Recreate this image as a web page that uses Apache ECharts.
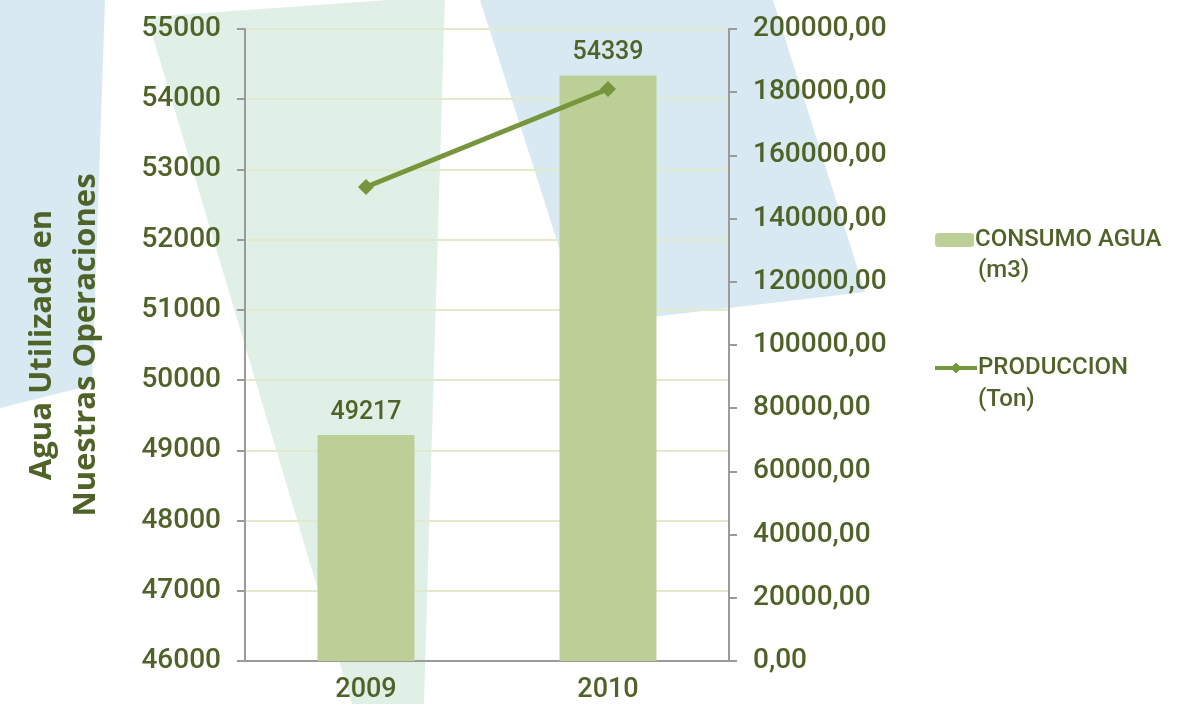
<!DOCTYPE html>
<html>
<head>
<meta charset="utf-8">
<script src="https://cdn.jsdelivr.net/npm/echarts@6/dist/echarts.min.js"></script>
<style>
  html, body { margin: 0; padding: 0; background: #ffffff; }
  #chart { width: 1179px; height: 704px; }
</style>
</head>
<body>
<div id="chart"></div>
<script>
// Water use vs. production, 2009–2010
const years = ['2009', '2010'];
const consumoAgua = [49217, 54339];        // m3
const produccion = [150000, 181000];       // Ton
const serieAgua = 'CONSUMO AGUA (m3)';
const serieProd = 'PRODUCCION (Ton)';

const textColor = '#4f6228';
const fontFam = 'Roboto, "Open Sans", sans-serif';
const titleFam = '"Open Sans", "Noto Sans", sans-serif';
const wt = 500;

const chart = echarts.init(document.getElementById('chart'), null, { renderer: 'canvas' });

// decorative background panels
const panels = [
  { points: [[0, 0], [105, 0], [92, 385], [0, 408]], fill: '#d8e9f1' },
  { points: [[147, 17], [445, -4], [424, 704], [352, 704]], fill: '#e1f0e6' },
  { points: [[480, 0], [773, 0], [865, 292], [584, 325]], fill: '#d8e9f1' }
];

chart.setOption({
  backgroundColor: '#ffffff',
  animation: false,
  graphic: [
    ...panels.map(p => ({
      type: 'polygon', silent: true, z: -10,
      shape: { points: p.points },
      style: { fill: p.fill }
    })),
    { type: 'text', left: 978, top: 259, z: 10,
      style: { text: '(m3)', fill: textColor, font: wt + ' 24px ' + fontFam } },
    { type: 'text', left: 978, top: 388, z: 10,
      style: { text: '(Ton)', fill: textColor, font: wt + ' 24px ' + fontFam } }
  ],
  legend: [
    { data: [serieAgua], left: 935, top: 228, orient: 'vertical',
      itemWidth: 39, itemHeight: 14, itemGap: 0, padding: 0,
      formatter: n => n.split(' (')[0],
      textStyle: { color: textColor, fontSize: 24, fontWeight: wt, fontFamily: fontFam, padding: [0, 0, 0, -4] } },
    { data: [serieProd], left: 933, top: 356, orient: 'vertical',
      itemWidth: 42, itemHeight: 14, itemGap: 0, padding: 0,
      lineStyle: { width: 4 },
      formatter: n => n.split(' (')[0],
      textStyle: { color: textColor, fontSize: 24, fontWeight: wt, fontFamily: fontFam, padding: [0, 0, 0, -4] } }
  ],
  grid: { left: 245, right: 450, top: 29, bottom: 43, containLabel: false },
  xAxis: {
    type: 'category',
    data: years,
    axisLine: { lineStyle: { color: '#9a9a9a', width: 2 } },
    axisTick: { show: false },
    axisLabel: { color: textColor, fontSize: 27, fontWeight: wt, fontFamily: fontFam, margin: 16 }
  },
  yAxis: [
    {
      type: 'value', min: 46000, max: 55000, interval: 1000,
      position: 'left',
      name: 'Agua Utilizada en\nNuestras Operaciones',
      nameLocation: 'middle', nameRotate: 90, nameGap: 137,
      nameTextStyle: { color: textColor, fontSize: 31, fontWeight: 'bold', fontFamily: titleFam, lineHeight: 44 },
      axisLine: { show: true, lineStyle: { color: '#9a9a9a', width: 2 } },
      axisTick: { show: true, length: 8, lineStyle: { color: '#9a9a9a', width: 2 } },
      splitLine: { lineStyle: { color: '#e2eacb', width: 2 } },
      axisLabel: {
        color: textColor, fontSize: 28, fontWeight: wt, fontFamily: fontFam, margin: 24,
        formatter: v => String(v)
      }
    },
    {
      type: 'value', min: 0, max: 200000, interval: 20000,
      position: 'right',
      axisLine: { show: true, lineStyle: { color: '#9a9a9a', width: 2 } },
      axisTick: { show: true, length: 8, lineStyle: { color: '#9a9a9a', width: 2 } },
      splitLine: { show: false },
      axisLabel: {
        color: textColor, fontSize: 28, fontWeight: wt, fontFamily: fontFam, margin: 24,
        formatter: v => v.toFixed(2).replace('.', ',')
      }
    }
  ],
  series: [
    {
      name: serieAgua,
      type: 'bar',
      data: consumoAgua,
      barWidth: 97,
      itemStyle: { color: '#bbcf97' },
      label: {
        show: true, position: 'top', distance: 10,
        color: textColor, fontSize: 25, fontWeight: wt, fontFamily: fontFam
      }
    },
    {
      name: serieProd,
      type: 'line',
      yAxisIndex: 1,
      data: produccion,
      symbol: 'diamond',
      symbolSize: 16,
      lineStyle: { color: '#77963c', width: 5 },
      itemStyle: { color: '#77963c' },
      z: 5
    }
  ]
});
</script>
</body>
</html>
